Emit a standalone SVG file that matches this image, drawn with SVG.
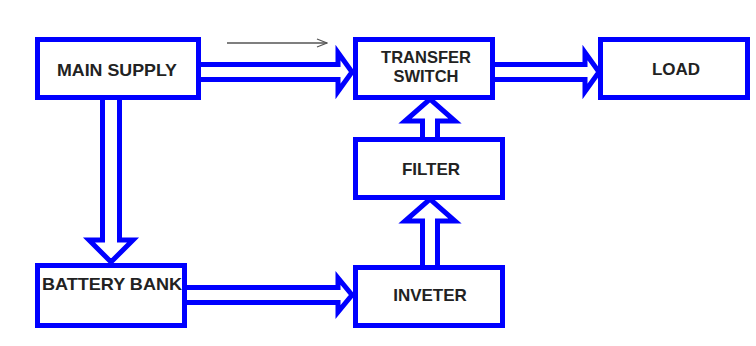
<svg xmlns="http://www.w3.org/2000/svg" width="756" height="346" viewBox="0 0 756 346">
  <style>
    .box { fill: #ffffff; stroke: #0000ff; stroke-width: 5; }
    .arr { fill: #ffffff; stroke: #0000ff; stroke-width: 5; stroke-linejoin: miter; stroke-miterlimit: 10; }
    .lbl { font-family: "Liberation Sans", Arial, sans-serif; font-weight: bold; font-size: 17px; fill: #222222; text-anchor: middle; }
  </style>
  <defs>
    <marker id="thin" markerWidth="12" markerHeight="10" refX="11" refY="5" orient="auto" markerUnits="userSpaceOnUse">
      <polyline points="1,1 11,5 1,9" fill="none" stroke="#555555" stroke-width="1.3"/>
    </marker>
  </defs>
  <rect width="756" height="346" fill="#ffffff"/>
  <g id="connectors">
    <polygon class="arr" points="198.5,64.5 338,64.5 338,52.5 352,72 338,91.5 338,79.5 198.5,79.5"/>
    <polygon class="arr" points="492.5,64.5 585,64.5 585,52.5 599,72 585,91.5 585,79.5 492.5,79.5"/>
    <polygon class="arr" points="102.5,97.5 102.5,240 89,240 111,262 133,240 119.5,240 119.5,97.5"/>
    <polygon class="arr" points="184.5,287.5 338,287.5 338,278 352,295 338,312 338,302.5 184.5,302.5"/>
    <polygon class="arr" points="422.5,267.5 422.5,221 405,221 430,199 455,221 437.5,221 437.5,267.5"/>
    <polygon class="arr" points="422.5,139.5 422.5,121 405,121 430,99 455,121 437.5,121 437.5,139.5"/>
    <line x1="227" y1="43" x2="327" y2="43" stroke="#555555" stroke-width="1.5" marker-end="url(#thin)"/>
  </g>
  <g id="main-supply">
    <rect class="box" x="37.5" y="39.5" width="161" height="58"/>
    <text class="lbl" x="117" y="76" textLength="120" lengthAdjust="spacingAndGlyphs">MAIN SUPPLY</text>
  </g>
  <g id="transfer-switch">
    <rect class="box" x="355.5" y="39.5" width="137" height="58"/>
    <text class="lbl" x="426" y="63" style="font-size:16.5px">TRANSFER</text>
    <text class="lbl" x="426" y="82" style="font-size:16.5px">SWITCH</text>
  </g>
  <g id="load">
    <rect class="box" x="600.5" y="39.5" width="147" height="58"/>
    <text class="lbl" x="676" y="75">LOAD</text>
  </g>
  <g id="filter">
    <rect class="box" x="355.5" y="139.5" width="147" height="58"/>
    <text class="lbl" x="431" y="175">FILTER</text>
  </g>
  <g id="inverter">
    <rect class="box" x="355.5" y="267.5" width="147" height="58"/>
    <text class="lbl" x="430" y="301">INVETER</text>
  </g>
  <g id="battery-bank">
    <rect class="box" x="37.5" y="265.5" width="147" height="60"/>
    <text class="lbl" x="112" y="290" textLength="140" lengthAdjust="spacingAndGlyphs">BATTERY BANK</text>
  </g>
</svg>
